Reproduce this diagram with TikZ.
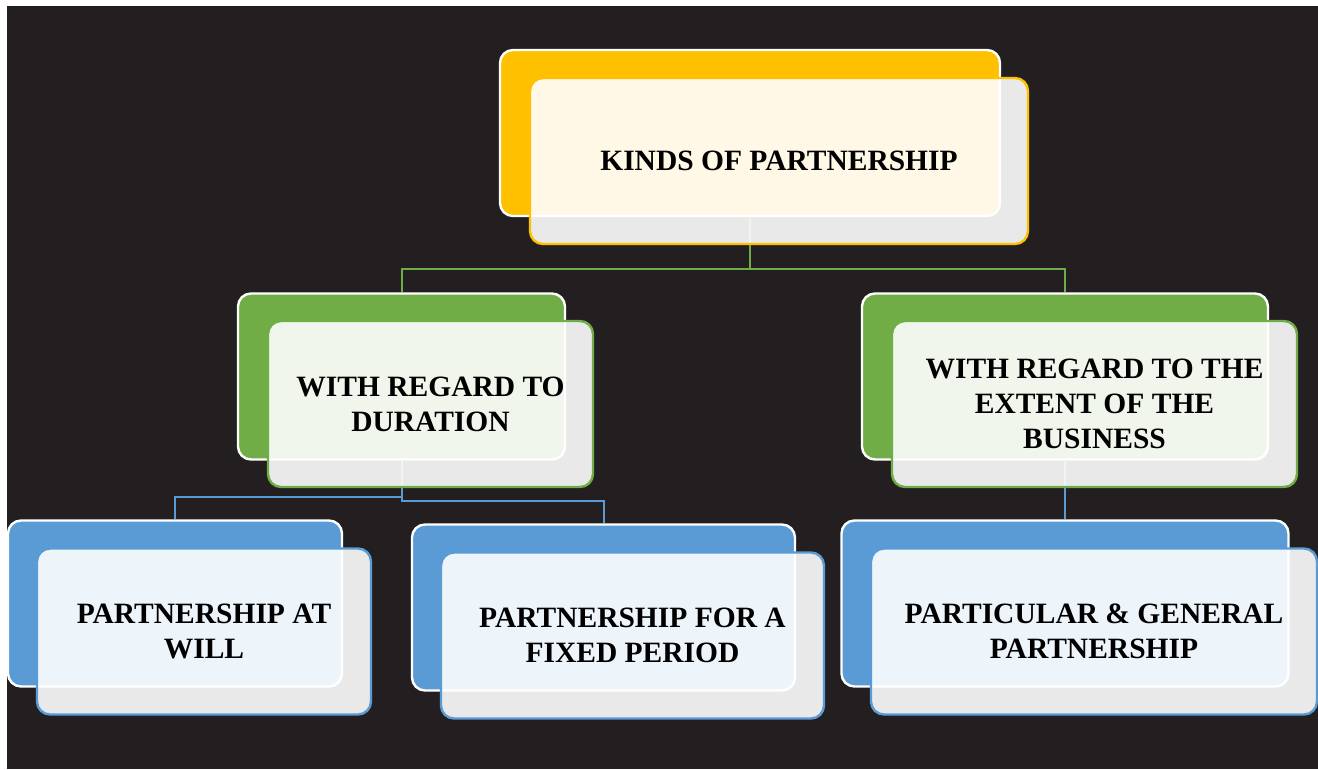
\documentclass[tikz,border=0pt]{standalone}
\usepackage{fontspec}
\setmainfont{Liberation Serif}
\usepackage{tikz}
\usetikzlibrary{positioning}
\definecolor{bgdark}{HTML}{231F20}
\definecolor{kindyellow}{HTML}{FFC000}
\definecolor{kindgreen}{HTML}{70AD47}
\definecolor{kindblue}{HTML}{5B9BD5}
\tikzset{
  backbox/.style={draw=white, line width=2.4pt, rounded corners=13pt, fill=#1, minimum height=166pt},
  frontbox/.style={draw=#1, line width=2.4pt, rounded corners=13pt, fill=white, fill opacity=0.9, text opacity=1,
    text=black, align=center, minimum height=166pt, font=\bfseries\fontsize{29.5}{35}\selectfont},
  greenlink/.style={draw=kindgreen, line width=2pt},
  bluelink/.style={draw=kindblue, line width=2pt}
}
\begin{document}
\begin{tikzpicture}[x=1pt,y=-1pt]
  \useasboundingbox (0,0) rectangle (1318,769);
  \fill[white] (0,0) rectangle (1318,769);
  \fill[bgdark] (7,6) rectangle (1318,769);

  % colour blocks behind each card
  \node[backbox=kindyellow, minimum width=500pt] (topBack) at (750,133) {};
  \node[backbox=kindgreen, minimum width=327pt] (durBack) at (401.5,376.5) {};
  \node[backbox=kindgreen, minimum width=406pt] (extBack) at (1065,376.5) {};
  \node[backbox=kindblue, minimum width=334pt] (willBack) at (175,603.5) {};
  \node[backbox=kindblue, minimum width=383pt] (fixedBack) at (603.5,607.5) {};
  \node[backbox=kindblue, minimum width=447pt] (genBack) at (1065,603.5) {};

  % tree lines
  \draw[greenlink] (topBack.south) -- ++(0,52) -| (durBack.north);
  \draw[greenlink] (topBack.south) -- ++(0,52) -| (extBack.north);
  \draw[bluelink] (durBack.south) -- ++(0,36) -| (willBack.north);
  \draw[bluelink] (durBack.south) -- ++(0,40) -| (fixedBack.north);
  \draw[bluelink] (extBack.south) -- (genBack.north);

  % cards with the text
  \node[frontbox=kindyellow, minimum width=498pt] (top) at (779,161) {KINDS OF PARTNERSHIP};
  \node[frontbox=kindgreen, minimum width=325pt] (dur) at (430.5,404) {WITH REGARD TO\\DURATION};
  \node[frontbox=kindgreen, minimum width=405pt] (ext) at (1094.5,404) {WITH REGARD TO THE\\EXTENT OF THE\\BUSINESS};
  \node[frontbox=kindblue, minimum width=334pt] (will) at (204,631.5) {PARTNERSHIP AT\\WILL};
  \node[frontbox=kindblue, minimum width=383pt] (fixed) at (632.5,635.5) {PARTNERSHIP FOR A\\FIXED PERIOD};
  \node[frontbox=kindblue, minimum width=446pt] (gen) at (1094,631.5) {PARTICULAR \& GENERAL\\PARTNERSHIP};
\end{tikzpicture}
\end{document}
